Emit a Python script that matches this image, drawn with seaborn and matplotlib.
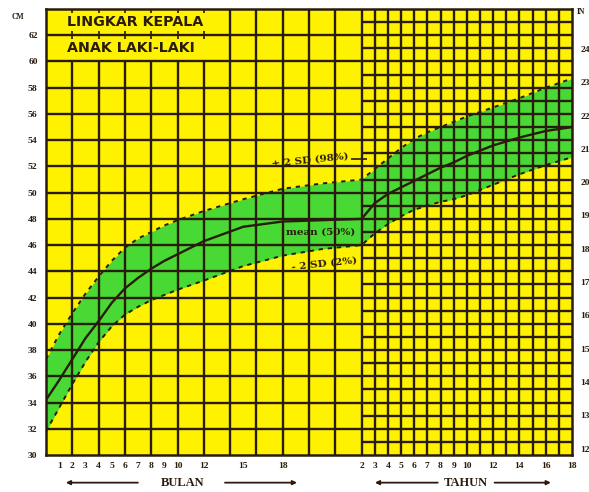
import numpy as np
import pandas as pd
import matplotlib.pyplot as plt
import matplotlib.transforms as mtransforms
import seaborn as sns

# Head circumference chart, boys (months 0-24 then years 2-18)
months = [0, 1, 2, 3, 4, 5, 6, 7, 8, 9, 10, 12, 15, 18, 21, 24]
mean_months = [34.2, 35.7, 37.3, 38.9, 40.2, 41.6, 42.7, 43.5, 44.2, 44.8, 45.3, 46.3, 47.4, 47.8, 47.9, 48.0]
upper_months = [37.3, 39.2, 40.8, 42.3, 43.6, 44.8, 45.8, 46.5, 47.0, 47.5, 47.9, 48.6, 49.5, 50.3, 50.7, 51.0]
lower_months = [31.8, 33.6, 35.4, 37.1, 38.6, 39.8, 40.7, 41.3, 41.8, 42.2, 42.6, 43.3, 44.4, 45.2, 45.7, 46.0]

years = [2, 3, 4, 5, 6, 7, 8, 9, 10, 12, 14, 16, 18]
mean_years = [48.0, 49.2, 49.9, 50.4, 50.9, 51.4, 51.9, 52.3, 52.8, 53.6, 54.2, 54.7, 55.0]
upper_years = [51.0, 51.8, 52.6, 53.4, 54.1, 54.6, 55.0, 55.4, 55.8, 56.5, 57.2, 58.0, 58.7]
lower_years = [46.0, 46.9, 47.6, 48.2, 48.7, 49.0, 49.3, 49.5, 49.8, 50.6, 51.4, 52.1, 52.7]

month_ticks = [1, 2, 3, 4, 5, 6, 7, 8, 9, 10, 12, 15, 18]
year_ticks = [2, 3, 4, 5, 6, 7, 8, 9, 10, 12, 14, 16, 18]
cm_ticks = list(range(30, 63, 2))
inch_ticks = list(range(12, 25))

YELLOW = '#fff200'
GREEN = '#48d935'
INK = '#2a1c0c'

# one unit = 1 month on the left part, 1 year on the right part
def year_pos(y):
    return 24 + (y - 2)

df = pd.DataFrame({
    'pos': months + [year_pos(y) for y in years[1:]],
    'mean': mean_months + mean_years[1:],
    'upper': upper_months + upper_years[1:],
    'lower': lower_months + lower_years[1:],
})

sns.set_theme(style="white")
plt.rcParams['font.family'] = ['Liberation Serif', 'DejaVu Serif']

fig = plt.figure(figsize=(5.89, 4.92), dpi=100)
fig.patch.set_facecolor('white')
ax = fig.add_axes([46 / 589, 37 / 492, 526 / 589, 446 / 492])
ax.set_facecolor(YELLOW)
ax.set_xlim(0, 40)
ax.set_ylim(30, 64)

# green band between -2SD and +2SD
ax.fill_between(df['pos'], df['lower'], df['upper'], color=GREEN, lw=0, zorder=1)

# grid: coarse on the left, fine on the right
lw_grid = 1.7
for m in range(2, 25, 2):
    top = 64 if m >= 14 else 60
    ax.vlines(m, 30, top, color=INK, lw=lw_grid, zorder=2)
for c in range(32, 64, 2):
    ax.hlines(c, 0, 24, color=INK, lw=lw_grid, zorder=2)
for p in range(25, 40):
    ax.vlines(p, 30, 64, color=INK, lw=lw_grid, zorder=2)
for c in range(31, 64):
    ax.hlines(c, 24, 40, color=INK, lw=lw_grid, zorder=2)
# small ticks inside the title box
for m in range(2, 14, 2):
    ax.vlines(m, 61.7, 62.3, color=INK, lw=1.2, zorder=2)
    ax.vlines(m, 63.7, 64, color=INK, lw=1.2, zorder=2)

# curves
sns.lineplot(data=df, x='pos', y='mean', ax=ax, color=INK, lw=1.7, estimator=None, zorder=3)
sns.lineplot(data=df, x='pos', y='upper', ax=ax, color=INK, lw=1.4, estimator=None,
             linestyle=(0, (2.2, 2.5)), zorder=3)
sns.lineplot(data=df, x='pos', y='lower', ax=ax, color=INK, lw=1.4, estimator=None,
             linestyle=(0, (2.2, 2.5)), zorder=3)

for s in ax.spines.values():
    s.set_color(INK)
    s.set_linewidth(1.8)
    s.set_zorder(4)

# labels on curves
lab = dict(fontsize=7.5, fontweight='bold', color=INK, zorder=5, ha='center', va='center',
           family=['DejaVu Serif'])
ax.text(20.1, 52.5, '+ 2 SD (98%)', rotation=6, **lab)
ax.hlines(52.6, 23.2, 24.4, color=INK, lw=1.2, zorder=5)
ax.text(20.9, 47.0, 'mean (50%)', rotation=0, **lab)
ax.text(21.2, 44.6, '- 2 SD (2%)', rotation=6, **lab)

# title box text
ttl = dict(fontsize=10.3, fontweight='bold', color=INK, family=['DejaVu Sans'], va='center', ha='left', zorder=5)
ax.text(1.6, 63.0, 'LINGKAR KEPALA', **ttl)
ax.text(1.6, 61.05, 'ANAK LAKI-LAKI', **ttl)

# ticks
xt = month_ticks + [year_pos(y) for y in year_ticks]
xl = [str(v) for v in month_ticks] + [str(v) for v in year_ticks]
ax.set_xticks(xt, labels=xl)
ax.set_yticks(cm_ticks, labels=[str(v) for v in cm_ticks])
ax.tick_params(axis='both', length=0, labelsize=6.8, colors=INK)
ax.tick_params(axis='x', pad=5)
ax.tick_params(axis='y', pad=6)
for t in ax.get_xticklabels() + ax.get_yticklabels():
    t.set_fontweight('bold')
ax.set_xlabel('')
ax.set_ylabel('')

ax2 = ax.twinx()
ax2.set_ylim(30 / 2.54, 64 / 2.54)
ax2.set_yticks(inch_ticks, labels=[str(v) for v in inch_ticks])
ax2.tick_params(axis='y', length=0, labelsize=6.8, colors=INK, pad=6)
for t in ax2.get_yticklabels():
    t.set_fontweight('bold')
for s in ax2.spines.values():
    s.set_visible(False)
ax2.patch.set_visible(False)

fig.text(18 / 589, 1 - 17 / 492, 'CM', fontsize=5.5, fontweight='bold', color=INK, ha='center', va='center')
fig.text(581 / 589, 1 - 12 / 492, 'IN', fontsize=5.5, fontweight='bold', color=INK, ha='center', va='center')

# axis arrows under the ticks
trans = mtransforms.blended_transform_factory(ax.transData, ax.transAxes)
ya = -0.062
arr = dict(arrowstyle='-|>', color=INK, lw=1.3, mutation_scale=6)
ax.annotate('', xy=(1.3, ya), xytext=(7.2, ya), xycoords=trans, textcoords=trans, arrowprops=arr, annotation_clip=False)
ax.annotate('', xy=(19.3, ya), xytext=(13.4, ya), xycoords=trans, textcoords=trans, arrowprops=arr, annotation_clip=False)
ax.text(10.4, ya, 'BULAN', transform=trans, fontsize=9, fontweight='bold', color=INK, ha='center', va='center')
ax.annotate('', xy=(24.8, ya), xytext=(30.0, ya), xycoords=trans, textcoords=trans, arrowprops=arr, annotation_clip=False)
ax.annotate('', xy=(38.6, ya), xytext=(33.9, ya), xycoords=trans, textcoords=trans, arrowprops=arr, annotation_clip=False)
ax.text(31.9, ya, 'TAHUN', transform=trans, fontsize=9, fontweight='bold', color=INK, ha='center', va='center')

fig.savefig('out.png', dpi=100)
